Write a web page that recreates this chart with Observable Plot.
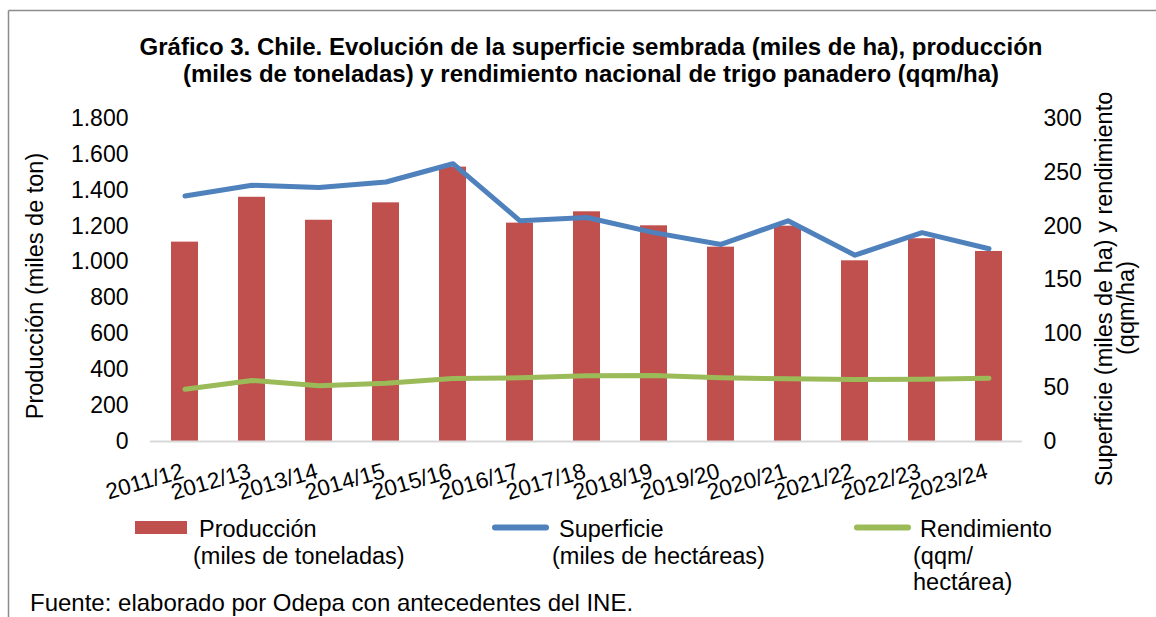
<!DOCTYPE html>
<html><head><meta charset="utf-8">
<script src="https://cdn.jsdelivr.net/npm/d3@7"></script>
<script src="https://cdn.jsdelivr.net/npm/@observablehq/plot@0.6"></script>
<style>
html,body{margin:0;padding:0;background:#fff;}
#chart{position:relative;width:1156px;height:617px;overflow:hidden;}
</style>
</head><body><div id="chart"></div>
<script>
// ---- Data ----
const temporadas = ["2011/12","2012/13","2013/14","2014/15","2015/16","2016/17","2017/18","2018/19","2019/20","2020/21","2021/22","2022/23","2023/24"];
const produccion = [1111, 1361, 1233, 1330, 1529, 1217, 1280, 1202, 1083, 1200, 1007, 1130, 1059]; // miles de toneladas
const superficie = [228, 238, 236, 241, 258, 205, 208, 194, 183, 205, 173, 194, 179];              // miles de ha
const rendimiento = [48.6, 56.7, 51.7, 54.2, 58.5, 59.1, 61.0, 61.3, 59.1, 58.2, 57.6, 57.9, 58.8]; // qqm/ha
const ticksIzq = [0, 200, 400, 600, 800, 1000, 1200, 1400, 1600, 1800];
const ticksDer = [0, 50, 100, 150, 200, 250, 300];

const titulo = ["Gráfico 3. Chile. Evolución de la superficie sembrada (miles de ha), producción",
                "(miles de toneladas) y rendimiento nacional de trigo panadero (qqm/ha)"];
const tituloIzq = "Producción (miles de ton)";
const tituloDer = ["Superficie (miles de ha) y rendimiento", "(qqm/ha)"];
const fuente = "Fuente: elaborado por Odepa con antecedentes del INE.";

const ROJO = "#C0504D", AZUL = "#4F81BD", VERDE = "#9BBB59";
const FACTOR = 1800 / 300; // right axis 0–300 mapped onto left axis 0–1800

const data = temporadas.map((t, i) => ({t, p: produccion[i], s: superficie[i], r: rendimiento[i]}));
const fmt = d3.formatLocale({decimal: ",", thousands: ".", grouping: [3], currency: ["$", ""]}).format(",d");
const FONT = "'Liberation Sans', Arial, Helvetica, sans-serif";

const chart = Plot.plot({
  width: 1156,
  height: 617,
  marginTop: 118,
  marginBottom: 176,
  marginLeft: 150,
  marginRight: 134,
  style: {fontFamily: FONT, fontSize: "23px", color: "#000", background: "#fff", overflow: "visible"},
  x: {type: "band", domain: temporadas, paddingInner: 0.6, paddingOuter: 0.3, axis: null},
  y: {domain: [0, 1800], axis: null},
  marks: [
    Plot.axisY(ticksIzq, {anchor: "left", tickSize: 0, tickPadding: 22, tickFormat: fmt, label: null, fontSize: 23}),
    Plot.axisY(ticksDer.map(v => v * FACTOR), {anchor: "right", tickSize: 0, tickPadding: 21, tickFormat: d => String(Math.round(d / FACTOR)), label: null, fontSize: 23}),
    Plot.barY(data, {x: "t", y: "p", fill: ROJO}),
    Plot.ruleY([0], {stroke: "#D9D9D9", strokeWidth: 2}),
    Plot.line(data, {x: "t", y: d => d.s * FACTOR, stroke: AZUL, strokeWidth: 5, strokeLinecap: "round", strokeLinejoin: "round"}),
    Plot.line(data, {x: "t", y: d => d.r * FACTOR, stroke: VERDE, strokeWidth: 5, strokeLinecap: "round", strokeLinejoin: "round"}),
    Plot.axisX(temporadas, {anchor: "bottom", tickSize: 0, tickPadding: 36, tickRotate: -16, textAnchor: "end", lineAnchor: "bottom", fontSize: 22.5, label: null})
  ]
});

document.getElementById("chart").appendChild(chart);

// ---- Frame, titles, legend, source ----
const svg = d3.select(chart);
const g = svg.append("g").attr("font-family", FONT).attr("fill", "#000").attr("text-anchor", "start");

g.append("line").attr("x1", 8.5).attr("x2", 1156).attr("y1", 10.5).attr("y2", 10.5).attr("stroke", "#8c8c8c").attr("stroke-width", 1.5);
g.append("line").attr("x1", 8.5).attr("x2", 8.5).attr("y1", 10.5).attr("y2", 617).attr("stroke", "#8c8c8c").attr("stroke-width", 1.5);

g.selectAll("text.tit").data(titulo).join("text").attr("class", "tit")
  .attr("x", 591).attr("y", (d, i) => 55 + i * 27)
  .attr("text-anchor", "middle").attr("font-weight", "bold").attr("font-size", 24)
  .text(d => d);

g.append("text").attr("transform", "translate(43,286) rotate(-90)")
  .attr("text-anchor", "middle").attr("font-size", 23.5).text(tituloIzq);
g.append("text").attr("transform", "translate(1112,289) rotate(-90)")
  .attr("text-anchor", "middle").attr("font-size", 23.5).text(tituloDer[0]);
g.append("text").attr("transform", "translate(1134,308) rotate(-90)")
  .attr("text-anchor", "middle").attr("font-size", 23.5).text(tituloDer[1]);

// legend
const leyenda = [
  {tipo: "rect", color: ROJO, sx: 135, lineas: ["Producción", "(miles de toneladas)"], tx: [199, 193]},
  {tipo: "line", color: AZUL, sx: 495, lineas: ["Superficie", "(miles de hectáreas)"], tx: [559, 552]},
  {tipo: "line", color: VERDE, sx: 857, lineas: ["Rendimiento", "(qqm/", "hectárea)"], tx: [920, 913, 913]}
];
leyenda.forEach(item => {
  if (item.tipo === "rect") {
    g.append("rect").attr("x", item.sx).attr("y", 521).attr("width", 52).attr("height", 13).attr("fill", item.color);
  } else {
    g.append("line").attr("x1", item.sx).attr("x2", item.sx + 51).attr("y1", 527.5).attr("y2", 527.5)
      .attr("stroke", item.color).attr("stroke-width", 6).attr("stroke-linecap", "round");
  }
  item.lineas.forEach((l, i) => {
    g.append("text").attr("x", item.tx[i]).attr("y", 537 + i * 26.5).attr("font-size", 23.5).attr("text-anchor", "start").text(l);
  });
});

g.append("text").attr("x", 30).attr("y", 611).attr("font-size", 24).attr("text-anchor", "start").text(fuente);
</script>
</body></html>
